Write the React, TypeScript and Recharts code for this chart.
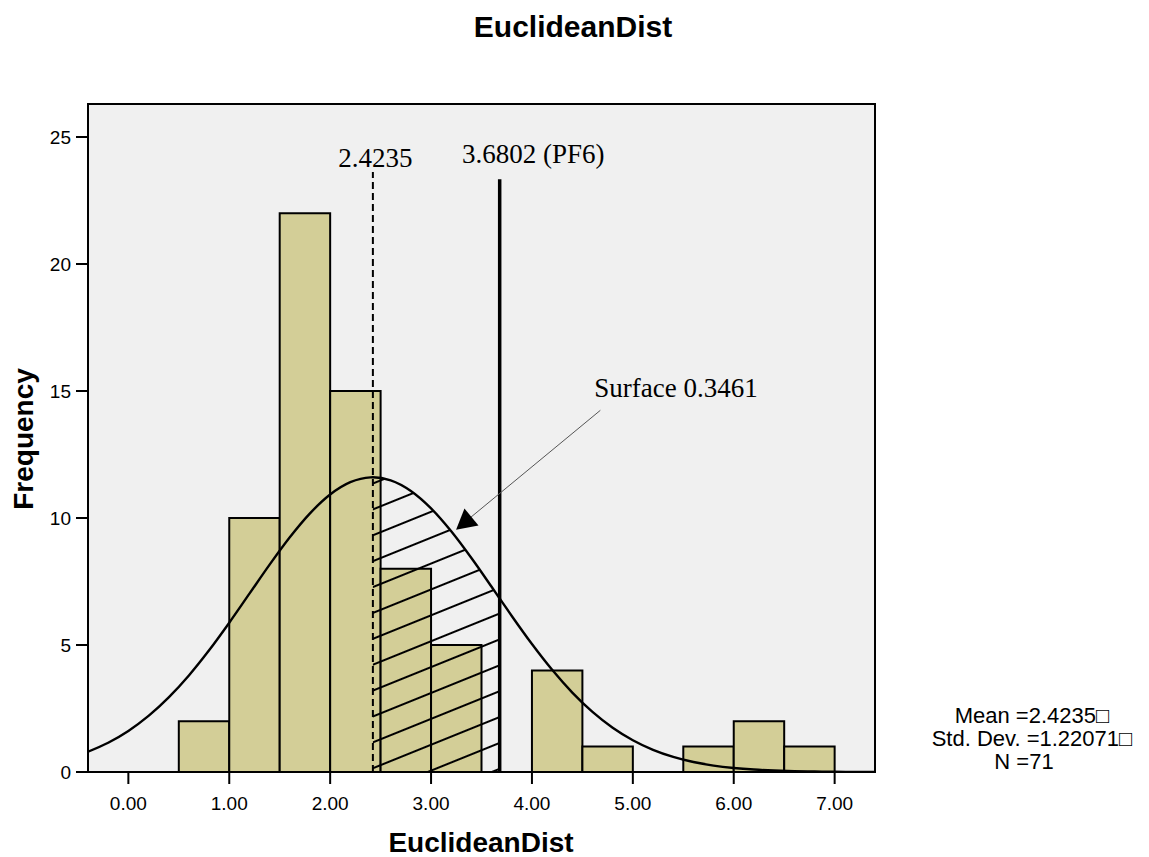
import {
  ComposedChart,
  XAxis,
  YAxis,
  Line,
  Area,
  CartesianGrid,
  ReferenceArea,
  ReferenceLine,
  ReferenceDot,
} from "recharts";

// histogram bins (width 0.5)
const BIN_START = [0.5, 1.0, 1.5, 2.0, 2.5, 3.0, 3.5, 4.0, 4.5, 5.0, 5.5, 6.0, 6.5];
const FREQ = [2, 10, 22, 15, 8, 5, 0, 4, 1, 0, 1, 2, 1];
const BIN_WIDTH = 0.5;

const X_TICKS = [0, 1, 2, 3, 4, 5, 6, 7];
const Y_TICKS = [0, 5, 10, 15, 20, 25];

// normal curve
const CURVE_X = [
  -0.4, -0.2, 0.0, 0.2, 0.4, 0.6, 0.8, 1.0, 1.2, 1.4, 1.6, 1.8, 2.0, 2.2, 2.4, 2.6, 2.8, 3.0, 3.2, 3.4,
  3.6, 3.8, 4.0, 4.2, 4.4, 4.6, 4.8, 5.0, 5.2, 5.4, 5.6, 5.8, 6.0, 6.2, 6.4, 6.6, 6.8, 7.0, 7.2, 7.4,
];
const CURVE_Y = [
  0.8, 1.152, 1.617, 2.208, 2.937, 3.802, 4.791, 5.878, 7.021, 8.164, 9.24, 10.183, 10.924, 11.409,
  11.6, 11.481, 11.063, 10.378, 9.477, 8.425, 7.292, 6.144, 5.039, 4.024, 3.128, 2.367, 1.744, 1.251,
  0.873, 0.594, 0.393, 0.253, 0.159, 0.097, 0.058, 0.033, 0.019, 0.01, 0.005, 0.003,
];

// hatched region between the mean and PF6
const HATCH_X = [2.4235, 2.6, 2.8, 3.0, 3.2, 3.4, 3.6, 3.6802];
const HATCH_Y = [11.602, 11.481, 11.063, 10.378, 9.477, 8.425, 7.292, 6.83];

const MEAN = 2.4235;
const PF6 = 3.6802;
const STATS = ["Mean =2.4235\u25A1", "Std. Dev. =1.22071\u25A1", "N =71"];

const SANS = "'Liberation Sans', Arial, sans-serif";
const SERIF = "'Liberation Serif', 'Times New Roman', serif";
const BAR_FILL = "#d3ce97";

const byX = new Map<number, { x: number; curve?: number; hatch?: number }>();
CURVE_X.forEach((x, i) => byX.set(x, { x, curve: CURVE_Y[i] }));
HATCH_X.forEach((x, i) => byX.set(x, { x, curve: HATCH_Y[i], hatch: HATCH_Y[i] }));
const chartData = Array.from(byX.values()).sort((a, b) => a.x - b.x);

const textShape = (value: string, anchor: "start" | "middle" | "end") => (p: any) => (
  <text x={p.cx} y={p.cy} textAnchor={anchor} fontFamily={SERIF} fontSize={27} fill="#000">
    {value}
  </text>
);

const arrowHead = (p: any) => (
  <polygon
    points="0,0 -20,-11 -20,11"
    transform={`translate(${p.cx},${p.cy}) rotate(140.4)`}
    fill="#000"
  />
);

export default function App() {
  return (
    <div style={{ position: "absolute", left: 0, top: 0, width: 1149, height: 857, background: "#fff" }}>
      <svg width={0} height={0} style={{ position: "absolute" }}>
        <defs>
          <pattern id="hatch" patternUnits="userSpaceOnUse" width={40} height={24} patternTransform="rotate(-22)">
            <line x1={0} y1={12} x2={40} y2={12} stroke="#000" strokeWidth={2} />
          </pattern>
        </defs>
      </svg>
      <ComposedChart
        width={1149}
        height={857}
        data={chartData}
        margin={{ top: 104, right: 274, bottom: 45, left: 28 }}
      >
        <CartesianGrid horizontal={false} vertical={false} fill="#f0f0f0" />
        <XAxis
          type="number"
          dataKey="x"
          domain={[-0.4, 7.4]}
          ticks={X_TICKS}
          allowDataOverflow
          tickFormatter={(v: number) => v.toFixed(2)}
          tickSize={12}
          tickMargin={13}
          height={40}
          axisLine={{ stroke: "#000", strokeWidth: 2 }}
          tickLine={{ stroke: "#000", strokeWidth: 2 }}
          tick={{ fill: "#000", fontSize: 19, fontFamily: SANS }}
        />
        <YAxis
          type="number"
          domain={[0, 26.3]}
          ticks={Y_TICKS}
          allowDataOverflow
          width={60}
          tickSize={12}
          tickMargin={5}
          axisLine={{ stroke: "#000", strokeWidth: 2 }}
          tickLine={{ stroke: "#000", strokeWidth: 2 }}
          tick={{ fill: "#000", fontSize: 19, fontFamily: SANS }}
        />
        {BIN_START.map((s, i) =>
          FREQ[i] > 0 ? (
            <ReferenceArea
              key={i}
              x1={s}
              x2={s + BIN_WIDTH}
              y1={0}
              y2={FREQ[i]}
              fill={BAR_FILL}
              fillOpacity={1}
              stroke="#000"
              strokeWidth={2}
            />
          ) : null
        )}
        <ReferenceArea x1={-0.4} x2={7.4} y1={0} y2={26.3} fill="none" stroke="#000" strokeWidth={2} />
        <Area
          dataKey="hatch"
          type="monotone"
          baseValue={0}
          fill="url(#hatch)"
          fillOpacity={1}
          stroke="none"
          isAnimationActive={false}
          dot={false}
          activeDot={false}
        />
        <Line
          dataKey="curve"
          type="monotone"
          stroke="#000"
          strokeWidth={2.4}
          dot={false}
          activeDot={false}
          isAnimationActive={false}
        />
        <ReferenceLine
          segment={[{ x: MEAN, y: 0 }, { x: MEAN, y: 23.62 }]}
          stroke="#000"
          strokeWidth={2}
          strokeDasharray="7 4"
        />
        <ReferenceLine
          segment={[{ x: PF6, y: 0 }, { x: PF6, y: 23.34 }]}
          stroke="#000"
          strokeWidth={3.5}
        />
        <ReferenceLine
          segment={[{ x: 4.678, y: 14.24 }, { x: 3.385, y: 10.0 }]}
          stroke="#555"
          strokeWidth={1}
        />
        <ReferenceDot x={3.248} y={9.54} r={1} shape={arrowHead} />
        <ReferenceDot x={2.448} y={23.82} r={1} shape={textShape("2.4235", "middle")} />
        <ReferenceDot x={4.014} y={23.97} r={1} shape={textShape("3.6802 (PF6)", "middle")} />
        <ReferenceDot x={4.618} y={14.75} r={1} shape={textShape("Surface 0.3461", "start")} />
        <text x={573} y={37} textAnchor="middle" fontFamily={SANS} fontWeight="bold" fontSize={30} fill="#000">
          EuclideanDist
        </text>
        <text x={481} y={852} textAnchor="middle" fontFamily={SANS} fontWeight="bold" fontSize={28} fill="#000">
          EuclideanDist
        </text>
        <text
          x={33}
          y={439}
          textAnchor="middle"
          transform="rotate(-90 33 439)"
          fontFamily={SANS}
          fontWeight="bold"
          fontSize={28}
          fill="#000"
        >
          Frequency
        </text>
        {STATS.map((s, i) => (
          <text
            key={s}
            x={i === 2 ? 1024 : 1032}
            y={723 + i * 23}
            textAnchor="middle"
            fontFamily={SANS}
            fontSize={22}
            fill="#000"
          >
            {s}
          </text>
        ))}
      </ComposedChart>
    </div>
  );
}
